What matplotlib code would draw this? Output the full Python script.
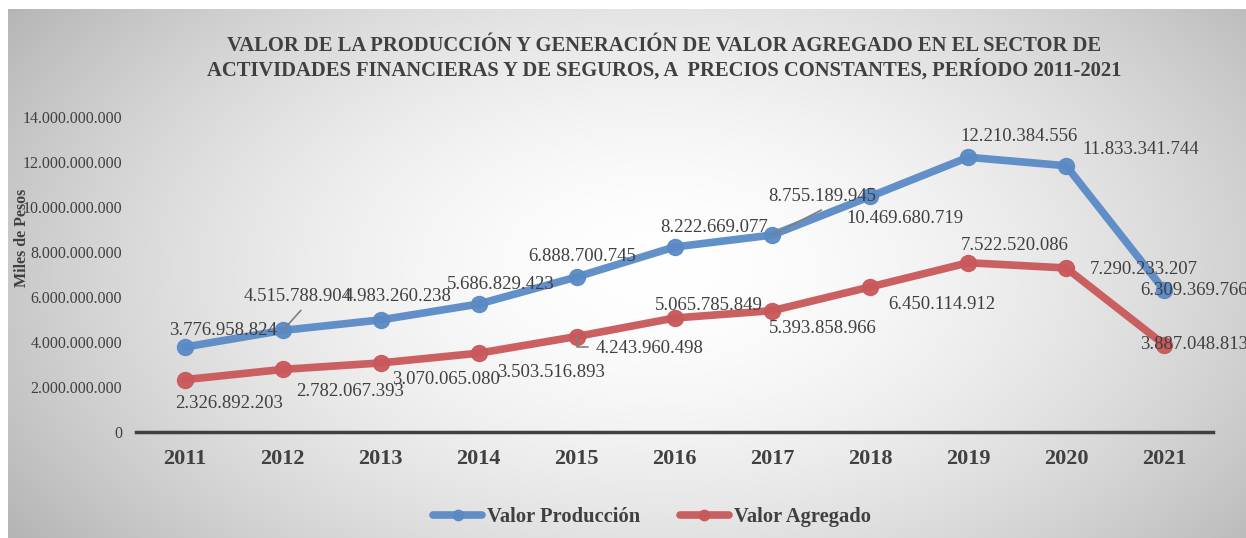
import matplotlib.pyplot as plt
import numpy as np

years = ["2011", "2012", "2013", "2014", "2015", "2016", "2017", "2018", "2019", "2020", "2021"]
valor_produccion = [3776958824, 4515788904, 4983260238, 5686829423, 6888700745, 8222669077,
                    8755189945, 10469680719, 12210384556, 11833341744, 6309369766]
valor_agregado = [2326892203, 2782067393, 3070065080, 3503516893, 4243960498, 5065785849,
                  5393858966, 6450114912, 7522520086, 7290233207, 3887048813]

# label offsets in pixels (dx, dy) from each point
off_prod = [(38, 17), (15, 34), (17, 23), (22, 20), (6, 21), (40, 19),
            (50, 39), (35, -22), (51, 21), (75, 16), (30, 0)]
off_agr = [(44, -24), (67, -22), (65, -17), (72, -19), (73, -12), (34, 13),
           (50, -18), (71, -18), (46, 17), (78, -2), (30, 0)]

def fmt(v):
    return f"{v:,}".replace(",", ".")

plt.rcParams["font.family"] = ["Liberation Serif", "DejaVu Serif"]
W, H = 1246, 538
fig = plt.figure(figsize=(W / 100, H / 100), dpi=100)

# radial gradient background
bg = fig.add_axes([8 / W, 0, 1 - 8 / W, 1 - 9 / H], zorder=-10)
yy, xx = np.mgrid[0:530, 0:1238]
cx, cy = 650, 260
r = np.sqrt(((xx - cx) / 700) ** 2 + ((yy - cy) / 420) ** 2)
g = 1.0 - 0.24 * np.clip(r, 0, 1.15) ** 1.7
bg.imshow(np.dstack([g, g, g]), aspect="auto", extent=[0, 1, 0, 1], origin="upper")
bg.set_axis_off()

ax = fig.add_axes([136 / W, (H - 432) / H, 1077 / W, 315 / H])
ax.patch.set_alpha(0)
x = np.arange(len(years))
blue = "#5A8AC6"
red = "#C9585A"
ax.plot(x, valor_produccion, color=blue, lw=5.5, marker="o", ms=11.5, alpha=0.95,
        solid_capstyle="round", label="Valor Producción", zorder=3)
ax.plot(x, valor_agregado, color=red, lw=5.5, marker="o", ms=11.5, alpha=0.95,
        solid_capstyle="round", label="Valor Agregado", zorder=3)

for i in range(len(x)):
    ax.annotate(fmt(valor_produccion[i]), (x[i], valor_produccion[i]), xytext=off_prod[i],
                textcoords="offset pixels", ha="center", va="center", fontsize=13.5,
                color="#404040", zorder=5)
    ax.annotate(fmt(valor_agregado[i]), (x[i], valor_agregado[i]), xytext=off_agr[i],
                textcoords="offset pixels", ha="center", va="center", fontsize=13.5,
                color="#404040", zorder=5)

# leader lines
ax.annotate("", (x[1], valor_produccion[1]), xytext=(18, 20), textcoords="offset pixels",
            arrowprops=dict(arrowstyle="-", color="#7f7f7f", lw=1.2, shrinkA=0, shrinkB=0), zorder=4)
ax.annotate("", (x[6], valor_produccion[6]), xytext=(49, 25), textcoords="offset pixels",
            arrowprops=dict(arrowstyle="-", color="#7f7f7f", lw=1.2, shrinkA=0, shrinkB=0), zorder=4)
ax.annotate("", (x[4], valor_agregado[4]), xytext=(11, -10), textcoords="offset pixels",
            arrowprops=dict(arrowstyle="-", color="#7f7f7f", lw=1.2, shrinkA=0, shrinkB=0,
                            connectionstyle="angle,angleA=0,angleB=90,rad=0"), zorder=4)

ax.set_xlim(-0.5, len(years) - 0.5)
ax.set_ylim(0, 14e9)
ax.set_yticks(np.arange(0, 14e9 + 1, 2e9))
ax.set_yticklabels([fmt(int(v)) for v in np.arange(0, 14e9 + 1, 2e9)], fontsize=11.5, color="#404040")
ax.set_xticks(x)
ax.set_xticklabels(years, fontsize=16, fontweight="bold", color="#404040")
ax.tick_params(axis="both", length=0)
ax.tick_params(axis="x", pad=12)
ax.tick_params(axis="y", pad=10)
for s in ["top", "right", "left"]:
    ax.spines[s].set_visible(False)
ax.spines["bottom"].set_color("#404040")
ax.spines["bottom"].set_linewidth(2.5)

fig.text(22 / W, 1 - 238 / H, "Miles de Pesos", rotation=90, ha="center", va="center",
         fontsize=11.5, fontweight="bold", color="#404040")

fig.text(664 / W, 1 - 58 / H,
         "VALOR DE LA PRODUCCIÓN Y GENERACIÓN DE VALOR AGREGADO EN EL SECTOR DE\n"
         "ACTIVIDADES FINANCIERAS Y DE SEGUROS, A  PRECIOS CONSTANTES, PERÍODO 2011-2021",
         ha="center", va="center", fontsize=14.9, fontweight="bold", color="#404040",
         linespacing=1.2)

fig.legend(loc="center", bbox_to_anchor=(652 / W, 1 - 517 / H), ncol=2, frameon=False,
           prop={"size": 14.8, "weight": "bold"}, labelcolor="#404040", handlelength=2.4,
           handletextpad=0.25, columnspacing=1.9, markerscale=0.65)

fig.savefig("out.png", dpi=100)
